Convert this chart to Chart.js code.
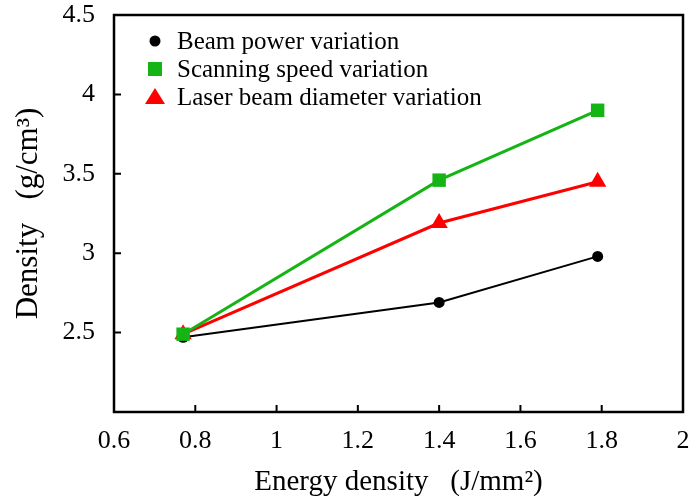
<!DOCTYPE html>
<html>
<head>
<meta charset="utf-8">
<script src="https://cdn.jsdelivr.net/npm/chart.js@4/dist/chart.umd.min.js"></script>
<style>
  html, body { margin: 0; padding: 0; background: #fff; }
  #wrap { width: 693px; height: 501px; position: relative; }
</style>
</head>
<body>
<div id="wrap"><canvas id="densityChart"></canvas></div>
<script>
// ── data ──
const energy = [0.77, 1.4, 1.79];
const beamPower = [2.47, 2.69, 2.98];
const scanSpeed = [2.49, 3.46, 3.90];
const beamDiameter = [2.49, 3.19, 3.45];
const seriesNames = ['Beam power variation', 'Scanning speed variation', 'Laser beam diameter variation'];
const xTicks = [0.6, 0.8, 1, 1.2, 1.4, 1.6, 1.8, 2];
const yTicks = [2, 2.5, 3, 3.5, 4, 4.5];

const FONT = "'Liberation Serif', 'Times New Roman', serif";
const GREEN = '#14b414';
const RED = '#ff0000';

const toPoints = (ys) => energy.map((x, i) => ({ x: x, y: ys[i] }));

// frame box + inward tick marks
const frame = {
  id: 'frame',
  afterDraw(chart) {
    const { ctx, chartArea: a, scales } = chart;
    ctx.save();
    ctx.strokeStyle = '#000';
    ctx.lineWidth = 2.5;
    ctx.strokeRect(a.left, a.top, a.right - a.left, a.bottom - a.top);
    ctx.lineWidth = 2;
    ctx.beginPath();
    xTicks.slice(1, -1).forEach(v => {
      const px = scales.x.getPixelForValue(v);
      ctx.moveTo(px, a.bottom);
      ctx.lineTo(px, a.bottom - 7);
    });
    yTicks.slice(1, -1).forEach(v => {
      const py = scales.y.getPixelForValue(v);
      ctx.moveTo(a.left, py);
      ctx.lineTo(a.left + 7, py);
    });
    ctx.stroke();
    ctx.restore();
  }
};

// legend in the top-left corner of the plot
const cornerLegend = {
  id: 'cornerLegend',
  afterDraw(chart) {
    const { ctx, chartArea: a } = chart;
    const x0 = a.left + 41, y0 = a.top + 26, row = 28;
    ctx.save();
    ctx.font = '25px ' + FONT;
    ctx.textBaseline = 'middle';
    chart.data.datasets.forEach((ds, i) => {
      const y = y0 + i * row;
      ctx.fillStyle = ds.pointBackgroundColor;
      ctx.beginPath();
      if (ds.pointStyle === 'circle') {
        ctx.arc(x0, y, 5.5, 0, Math.PI * 2);
      } else if (ds.pointStyle === 'rect') {
        ctx.rect(x0 - 7, y - 7, 14, 14);
      } else {
        ctx.moveTo(x0, y - 9);
        ctx.lineTo(x0 + 10, y + 7);
        ctx.lineTo(x0 - 10, y + 7);
        ctx.closePath();
      }
      ctx.fill();
      ctx.fillStyle = '#000';
      ctx.fillText(ds.label, x0 + 22, y + 1);
    });
    ctx.restore();
  }
};

new Chart(document.getElementById('densityChart'), {
  type: 'line',
  plugins: [frame, cornerLegend],
  data: {
    datasets: [
      {
        label: seriesNames[0],
        data: toPoints(beamPower),
        borderColor: '#000',
        borderWidth: 2,
        pointStyle: 'circle',
        pointRadius: 5.5,
        pointBackgroundColor: '#000',
        pointBorderWidth: 0,
        order: 3,
      },
      {
        label: seriesNames[1],
        data: toPoints(scanSpeed),
        borderColor: GREEN,
        borderWidth: 3,
        pointStyle: 'rect',
        pointRadius: 9.5,
        pointBackgroundColor: GREEN,
        pointBorderWidth: 0,
        order: 1,
      },
      {
        label: seriesNames[2],
        data: toPoints(beamDiameter),
        borderColor: RED,
        borderWidth: 3,
        pointStyle: 'triangle',
        pointRadius: 10,
        pointBackgroundColor: RED,
        pointBorderWidth: 0,
        order: 2,
      },
    ],
  },
  options: {
    animation: false,
    responsive: true,
    maintainAspectRatio: false,
    devicePixelRatio: 1,
    layout: { padding: { top: 15, right: 10, left: 0, bottom: 0 } },
    plugins: {
      legend: { display: false },
      tooltip: { enabled: false },
    },
    scales: {
      x: {
        type: 'linear',
        min: 0.6,
        max: 2,
        grid: { display: false },
        border: { display: false },
        afterBuildTicks: (axis) => { axis.ticks = xTicks.map(v => ({ value: v })); },
        ticks: {
          color: '#000',
          font: { family: FONT, size: 26 },
          padding: 6,
          maxRotation: 0,
          callback: (v) => String(v),
        },
        title: {
          display: true,
          text: 'Energy density   (J/mm²)',
          color: '#000',
          font: { family: FONT, size: 29 },
          padding: { top: 0, bottom: 1 },
        },
        afterFit: (axis) => {
          axis.height = 89;
          axis.paddingLeft = 0;
          axis.paddingRight = 0;
        },
      },
      y: {
        min: 2,
        max: 4.5,
        grid: { display: false },
        border: { display: false },
        afterBuildTicks: (axis) => { axis.ticks = yTicks.map(v => ({ value: v })); },
        ticks: {
          color: '#000',
          font: { family: FONT, size: 26 },
          padding: 11,
          callback: (v) => (v === 2 ? '' : String(v)),
        },
        title: {
          display: true,
          text: 'Density   (g/cm³)',
          color: '#000',
          font: { family: FONT, size: 31 },
          padding: { top: 10, bottom: 0 },
        },
        afterFit: (axis) => {
          axis.width = 114;
          axis.paddingTop = 0;
          axis.paddingBottom = 0;
        },
      },
    },
  },
});
</script>
</body>
</html>
